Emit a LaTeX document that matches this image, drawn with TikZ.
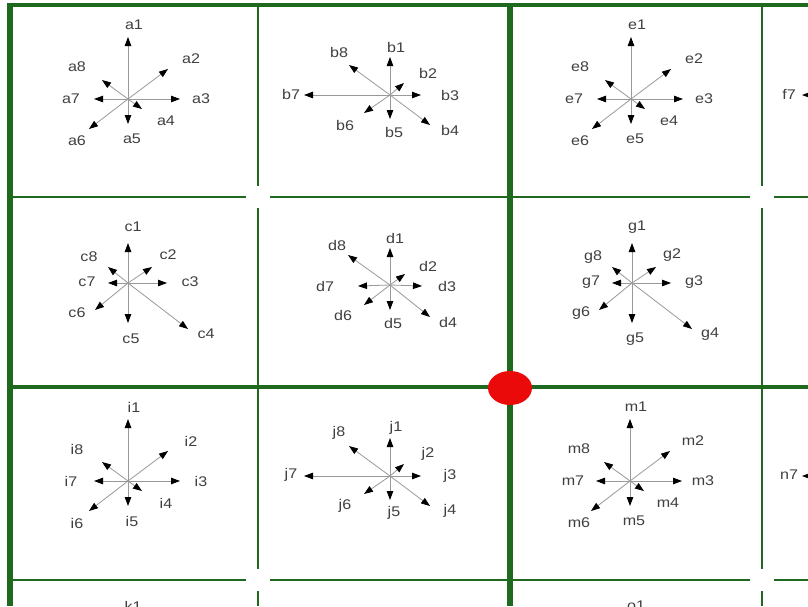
\documentclass[tikz,border=0pt]{standalone}
\usepackage{fontspec}
\setmainfont{Liberation Sans}
\usetikzlibrary{calc,arrows.meta}

\definecolor{gridgreen}{RGB}{30,105,30}
\definecolor{dotred}{RGB}{235,10,10}

\begin{document}
\begin{tikzpicture}[x=1pt,y=-1pt,
    major/.style={draw=gridgreen,line width=5.5pt},
    majorh/.style={draw=gridgreen,line width=3.5pt},
    minor/.style={draw=gridgreen,line width=2.5pt},
    vec/.style={draw=black!40,line width=0.8pt,-{Triangle[length=9pt,width=6.5pt,color=black]}},
    lab/.style={inner sep=0pt,text=black!75,xscale=1.15,font=\fontsize{14}{16}\selectfont}]
  \clip (0,0) rectangle (808,606);
  \fill[white] (0,0) rectangle (808,606);
  % grid
  \draw[major] (10,3)--(10,606); \draw[major] (510,3)--(510,606);
  \draw[majorh] (8,5)--(808,5); \draw[majorh] (8,387)--(808,387);
  \foreach \x in {258,762}
    \draw[minor] (\x,5)--(\x,186) (\x,208)--(\x,569) (\x,591)--(\x,606);
  \foreach \y in {197,580}
    \draw[minor] (10,\y)--(246,\y) (270,\y)--(750,\y) (774,\y)--(808,\y);
  % stars, first kind
  \foreach \c/\x/\y in {a/128/99,e/631/99,i/128/481,m/630/481}{
    \coordinate (\c0) at (\x,\y);
    \foreach \i/\tx/\ty/\lx/\ly in {1/0/-62/6/-74,2/40/-30/63/-40,3/52/0/73/0,4/14/10/38/22,
        5/0/25/4/40,6/-39/30/-51/42,7/-34/0/-57/0,8/-26/-19/-51/-32}{
      \coordinate (\c\i) at ($(\c0)+(\tx,\ty)$);
      \draw[vec] (\c0)--(\c\i);
      \node[lab] (\c\i-lab) at ($(\c0)+(\lx,\ly)$) {\c\i};
    }
  }
  % second kind
  \foreach \c/\x/\y in {b/390/95,j/390/476}{
    \coordinate (\c0) at (\x,\y);
    \foreach \i/\tx/\ty/\lx/\ly in {1/0/-38/6/-48,2/14/-12/38/-22,3/31/0/60/0,4/40/30/60/35,
        5/0/24/4/37,6/-26/18/-45/30,7/-86/0/-99/-1,8/-41/-30/-51/-43}{
      \coordinate (\c\i) at ($(\c0)+(\tx,\ty)$);
      \draw[vec] (\c0)--(\c\i);
      \node[lab] (\c\i-lab) at ($(\c0)+(\lx,\ly)$) {\c\i};
    }
  }
  % third kind
  \foreach \c/\x/\y in {c/128/283,g/632/283}{
    \coordinate (\c0) at (\x,\y);
    \foreach \i/\tx/\ty/\lx/\ly in {1/0/-40/5/-56,2/24/-16/40/-28,3/39/0/62/-1,4/60/46/78/51,
        5/0/40/3/56,6/-33/27/-51/30,7/-20/0/-41/-1,8/-20/-16/-39/-26}{
      \coordinate (\c\i) at ($(\c0)+(\tx,\ty)$);
      \draw[vec] (\c0)--(\c\i);
      \node[lab] (\c\i-lab) at ($(\c0)+(\lx,\ly)$) {\c\i};
    }
  }
  % d
  \coordinate (d0) at (390,285);
  \foreach \i/\tx/\ty/\lx/\ly in {1/0/-37/5/-47,2/15/-11/38/-19,3/32/1/57/1,4/40/32/58/37,
      5/0/25/3/38,6/-26/20/-47/30,7/-32/1/-65/1,8/-42/-30/-53/-40}{
    \coordinate (d\i) at ($(d0)+(\tx,\ty)$);
    \draw[vec] (d0)--(d\i);
    \node[lab] (d\i-lab) at ($(d0)+(\lx,\ly)$) {d\i};
  }
  % cut at the right and bottom edges
  \foreach \c/\y in {f/95,n/476}{
    \coordinate (\c0) at (888,\y);
    \coordinate (\c7) at ($(\c0)+(-86,0)$);
    \draw[vec] (\c0)--(\c7);
    \node[lab] (\c7-lab) at ($(\c0)+(-99,-1)$) {\c7};
  }
  \node[lab] (k1-lab) at (133,606) {k1};
  \node[lab] (o1-lab) at (636,606) {o1};
  % red dot
  \fill[dotred] (510,388) ellipse (22 and 17);
\end{tikzpicture}
\end{document}
